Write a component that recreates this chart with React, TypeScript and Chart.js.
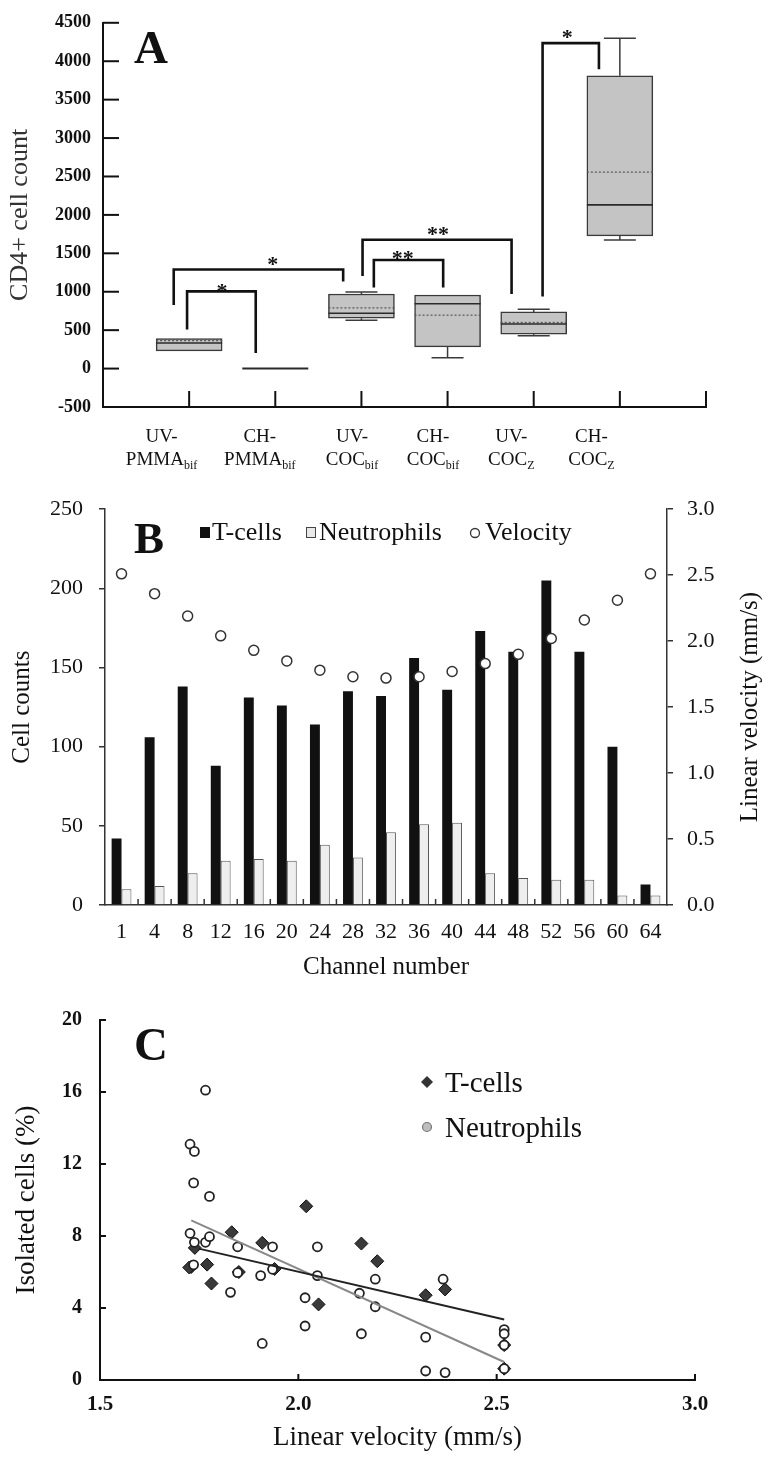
import React, { useEffect, useRef } from "react";
import { Chart, registerables } from "chart.js";

Chart.register(...registerables);

const SERIF = "'Liberation Serif', 'Times New Roman', Times, serif";

// ---------------- Panel A : CD4+ cell count box plots ----------------
const A_TOP_LABELS = ["UV-", "CH-", "UV-", "CH-", "UV-", "CH-"];
const A_MAIN_LABELS = ["PMMA", "PMMA", "COC", "COC", "COC", "COC"];
const A_SUB_LABELS = ["bif", "bif", "bif", "bif", "Z", "Z"];
const A_POSITIONS = [1, 2, 3, 4, 5, 6];
const A_LABEL_AT = [0.68, 1.82, 2.89, 3.83, 4.74, 5.67];
const A_MIN = [230, 0, 630, 140, 427, 1672];
const A_Q1 = [230, 0, 655, 282, 448, 1728];
const A_MEDIAN = [333, 0, 720, 843, 580, 2131];
const A_MEAN = [365, 0, 790, 695, 600, 2557];
const A_Q3 = [390, 0, 971, 958, 737, 3811];
const A_MAX = [390, 0, 995, 958, 772, 4300];

// significance brackets (x in group units, y in cell counts)
const SIG_LEFT_X = [0.976, 0.821, 3.144, 3.013, 5.103];
const SIG_RIGHT_X = [1.773, 2.788, 3.949, 4.743, 5.757];
const SIG_TOP = [1005, 1290, 1413, 1677, 4236];
const SIG_LEFT_END = [508, 826, 1056, 1205, 937];
const SIG_RIGHT_END = [203, 1133, 1056, 971, 3897];
const SIG_MARK = ["*", "*", "**", "**", "*"];
const SIG_MARK_X = [1.38, 1.97, 3.48, 3.89, 5.39];
const SIG_MARK_Y = [1043, 1397, 1473, 1787, 4351];

// ---------------- Panel B : cells per channel ----------------
const CHANNELS = ["1", "4", "8", "12", "16", "20", "24", "28", "32", "36", "40", "44", "48", "52", "56", "60", "64"];
const T_CELLS = [42, 106, 138, 88, 131, 126, 114, 135, 132, 156, 136, 173, 160, 205, 160, 100, 13];
const NEUTROPHILS = [10, 12, 20, 28, 29, 28, 38, 30, 46, 51, 52, 20, 17, 16, 16, 6, 6];
const VELOCITY = [2.51, 2.36, 2.19, 2.04, 1.93, 1.85, 1.78, 1.73, 1.72, 1.73, 1.77, 1.83, 1.9, 2.02, 2.16, 2.31, 2.51];

// ---------------- Panel C : isolated cells vs velocity ----------------
const C_T_VEL = [2.519, 2.37, 2.199, 2.051, 1.94, 1.85, 1.781, 1.73, 1.725, 1.739, 1.77, 1.832, 1.909, 2.02, 2.159, 2.321, 2.519];
const C_T_PCT = [1.94, 5.03, 6.6, 4.2, 6.17, 6.0, 5.36, 6.28, 6.25, 7.34, 6.41, 8.21, 7.62, 9.65, 7.58, 4.71, 0.63];
const C_N_VEL = [1.766, 1.727, 1.738, 1.736, 1.776, 1.727, 1.738, 1.766, 1.776, 1.847, 1.935, 2.048, 1.736, 1.847, 1.935, 1.905, 1.829, 2.048, 2.154, 2.194, 2.194, 2.365, 2.017, 2.017, 2.519, 2.519, 2.519, 2.519, 1.909, 2.159, 2.321, 2.321, 2.37];
const C_N_PCT = [16.1, 13.1, 12.7, 10.95, 10.2, 8.15, 7.65, 7.65, 7.96, 7.4, 7.4, 7.4, 6.4, 5.96, 6.15, 5.8, 4.87, 5.8, 4.82, 5.6, 4.07, 5.6, 4.57, 3.0, 2.8, 2.57, 1.94, 0.63, 2.03, 2.57, 2.38, 0.5, 0.41];
const C_T_FIT_X = [1.749, 2.519];
const C_T_FIT_Y = [7.3, 3.36];
const C_N_FIT_X = [1.73, 2.519];
const C_N_FIT_Y = [8.87, 1.0];

function line(ctx: any, x1: number, y1: number, x2: number, y2: number) {
  ctx.beginPath();
  ctx.moveTo(x1, y1);
  ctx.lineTo(x2, y2);
  ctx.stroke();
}

const plotAPlugin = {
  id: "plotA",
  afterDatasetsDraw(chart: any) {
    const { ctx, scales } = chart;
    const x = scales.x, y = scales.y;
    const half = 33, cap = 16;
    ctx.save();
    A_POSITIONS.forEach((p, i) => {
      const cx = x.getPixelForValue(p);
      ctx.strokeStyle = "#3a3a3a";
      ctx.lineWidth = 1.5;
      if (A_MAX[i] > A_Q3[i]) {
        const a = y.getPixelForValue(A_Q3[i]);
        const b = y.getPixelForValue(A_MAX[i]);
        line(ctx, cx, a, cx, b);
        line(ctx, cx - cap, b, cx + cap, b);
      }
      if (A_MIN[i] < A_Q1[i]) {
        const a = y.getPixelForValue(A_Q1[i]);
        const b = y.getPixelForValue(A_MIN[i]);
        line(ctx, cx, a, cx, b);
        line(ctx, cx - cap, b, cx + cap, b);
      }
      if (A_MEAN[i] !== A_MEDIAN[i]) {
        const ym = y.getPixelForValue(A_MEAN[i]);
        ctx.save();
        ctx.setLineDash([2, 2]);
        ctx.strokeStyle = "#555";
        ctx.lineWidth = 1.2;
        line(ctx, cx - half, ym, cx + half, ym);
        ctx.restore();
      }
      const yMed = y.getPixelForValue(A_MEDIAN[i]);
      ctx.strokeStyle = "#2a2a2a";
      ctx.lineWidth = A_Q1[i] === A_Q3[i] ? 2 : 1.6;
      line(ctx, cx - half, yMed, cx + half, yMed);
    });
    ctx.restore();
  },
  afterDraw(chart: any) {
    const { ctx, chartArea, scales } = chart;
    const x = scales.x, y = scales.y;
    ctx.save();
    // inward tick marks
    ctx.strokeStyle = "#111";
    ctx.lineWidth = 2;
    y.ticks.forEach((t: any) => {
      const py = y.getPixelForValue(t.value);
      line(ctx, chartArea.left, py, chartArea.left + 16, py);
    });
    x.ticks.forEach((t: any) => {
      if (t.value === 0) return;
      const px = x.getPixelForValue(t.value);
      line(ctx, px, chartArea.bottom, px, chartArea.bottom - 16);
    });
    // significance brackets
    ctx.lineWidth = 2.6;
    ctx.lineJoin = "miter";
    SIG_TOP.forEach((top, i) => {
      const xl = x.getPixelForValue(SIG_LEFT_X[i]);
      const xr = x.getPixelForValue(SIG_RIGHT_X[i]);
      ctx.beginPath();
      ctx.moveTo(xl, y.getPixelForValue(SIG_LEFT_END[i]));
      ctx.lineTo(xl, y.getPixelForValue(top));
      ctx.lineTo(xr, y.getPixelForValue(top));
      ctx.lineTo(xr, y.getPixelForValue(SIG_RIGHT_END[i]));
      ctx.stroke();
      ctx.fillStyle = "#111";
      ctx.font = `bold 22px ${SERIF}`;
      ctx.textAlign = "center";
      ctx.textBaseline = "middle";
      ctx.fillText(SIG_MARK[i], x.getPixelForValue(SIG_MARK_X[i]), y.getPixelForValue(SIG_MARK_Y[i]) + 4);
    });
    // category labels
    ctx.fillStyle = "#111";
    ctx.textBaseline = "alphabetic";
    A_TOP_LABELS.forEach((top, i) => {
      const cx = x.getPixelForValue(A_LABEL_AT[i]);
      ctx.font = `19px ${SERIF}`;
      ctx.textAlign = "center";
      ctx.fillText(top, cx, chartArea.bottom + 35);
      const mainW = ctx.measureText(A_MAIN_LABELS[i]).width;
      ctx.font = `12px ${SERIF}`;
      const subW = ctx.measureText(A_SUB_LABELS[i]).width;
      const start = cx - (mainW + subW) / 2;
      ctx.textAlign = "left";
      ctx.font = `19px ${SERIF}`;
      ctx.fillText(A_MAIN_LABELS[i], start, chartArea.bottom + 58);
      ctx.font = `12px ${SERIF}`;
      ctx.fillText(A_SUB_LABELS[i], start + mainW, chartArea.bottom + 62);
    });
    // panel letter
    ctx.font = `bold 47px ${SERIF}`;
    ctx.textAlign = "left";
    ctx.fillText("A", 134, 63);
    ctx.restore();
  },
};

function configA(): any {
  return {
    type: "bar",
    data: {
      datasets: [
        {
          label: "CD4+ cell count",
          data: A_POSITIONS.map((p, i) => ({ x: p, y: [A_Q1[i], A_Q3[i]] })),
          backgroundColor: "#c4c4c4",
          borderColor: "#3a3a3a",
          borderWidth: 1.5,
          borderSkipped: false,
          barThickness: 66,
        },
      ],
    },
    options: {
      responsive: false,
      animation: false,
      devicePixelRatio: 1,
      layout: { padding: { top: 15, right: 61, left: 0, bottom: 0 } },
      plugins: { legend: { display: false }, tooltip: { enabled: false } },
      scales: {
        x: {
          type: "linear",
          min: 0,
          max: 7,
          offset: false,
          ticks: { display: false, stepSize: 1 },
          grid: { display: false, drawTicks: false, offset: false },
          border: { display: true, color: "#111", width: 2 },
          afterFit: (s: any) => { s.height = 73; },
        },
        y: {
          type: "linear",
          min: -500,
          max: 4500,
          ticks: {
            stepSize: 500,
            callback: (v: any) => String(v),
            font: { family: SERIF, size: 18, weight: "bold" },
            color: "#111",
            padding: 12,
          },
          grid: { display: false, drawTicks: false },
          border: { display: true, color: "#111", width: 2 },
          title: { display: true, text: "CD4+ cell count", font: { family: SERIF, size: 26 }, color: "#333", padding: { top: 5, bottom: 0 } },
          afterFit: (s: any) => { s.width = 103; },
        },
      },
    },
    plugins: [plotAPlugin],
  };
}

const plotBPlugin = {
  id: "plotB",
  afterDraw(chart: any) {
    const { ctx, chartArea, scales } = chart;
    const x = scales.x;
    ctx.save();
    ctx.strokeStyle = "#333";
    ctx.lineWidth = 1.5;
    for (let i = 0; i < CHANNELS.length - 1; i++) {
      const px = (x.getPixelForValue(i) + x.getPixelForValue(i + 1)) / 2;
      line(ctx, px, chartArea.bottom, px, chartArea.bottom - 6);
    }
    // right axis title (reads bottom-to-top)
    ctx.save();
    ctx.translate(750, (chartArea.top + chartArea.bottom) / 2);
    ctx.rotate(-Math.PI / 2);
    ctx.font = `25px ${SERIF}`;
    ctx.fillStyle = "#111";
    ctx.textAlign = "center";
    ctx.textBaseline = "middle";
    ctx.fillText("Linear velocity (mm/s)", 0, 0);
    ctx.restore();
    // legend
    ctx.font = `26px ${SERIF}`;
    ctx.textAlign = "left";
    ctx.textBaseline = "alphabetic";
    ctx.fillStyle = "#111";
    ctx.fillRect(200, 47, 10, 11);
    ctx.fillText("T-cells", 212, 60);
    ctx.fillStyle = "#e8e8e8";
    ctx.fillRect(306, 47, 10, 11);
    ctx.lineWidth = 1;
    ctx.strokeStyle = "#444";
    ctx.strokeRect(306.5, 47.5, 9, 10);
    ctx.fillStyle = "#111";
    ctx.fillText("Neutrophils", 319, 60);
    ctx.beginPath();
    ctx.arc(475, 53, 4.5, 0, Math.PI * 2);
    ctx.fillStyle = "#fff";
    ctx.fill();
    ctx.lineWidth = 1.3;
    ctx.strokeStyle = "#333";
    ctx.stroke();
    ctx.fillStyle = "#111";
    ctx.fillText("Velocity", 485, 60);
    ctx.font = `bold 45px ${SERIF}`;
    ctx.fillText("B", 134, 73);
    ctx.restore();
  },
};

function configB(): any {
  const tickFont = { family: SERIF, size: 22 };
  const titleFont = { family: SERIF, size: 25 };
  return {
    type: "bar",
    data: {
      labels: CHANNELS,
      datasets: [
        {
          type: "line",
          label: "Velocity",
          data: VELOCITY,
          yAxisID: "y1",
          showLine: false,
          pointStyle: "circle",
          pointRadius: 5,
          pointBackgroundColor: "#fff",
          pointBorderColor: "#333",
          pointBorderWidth: 1.5,
          order: 0,
        },
        {
          type: "bar",
          label: "T-cells",
          data: T_CELLS,
          yAxisID: "y",
          backgroundColor: "#111",
          borderWidth: 0,
          categoryPercentage: 0.6,
          barPercentage: 1,
          order: 1,
        },
        {
          type: "bar",
          label: "Neutrophils",
          data: NEUTROPHILS,
          yAxisID: "y",
          backgroundColor: "#eeeeee",
          borderColor: "#555",
          borderWidth: 1,
          borderSkipped: "bottom",
          categoryPercentage: 0.6,
          barPercentage: 1,
          order: 1,
        },
      ],
    },
    options: {
      responsive: false,
      animation: false,
      devicePixelRatio: 1,
      layout: { padding: { top: 29, right: 0, left: 0, bottom: 0 } },
      plugins: { legend: { display: false }, tooltip: { enabled: false } },
      scales: {
        x: {
          ticks: { font: tickFont, color: "#111", padding: 14, maxRotation: 0, autoSkip: false },
          grid: { display: false, drawTicks: false },
          border: { display: true, color: "#333", width: 1.5 },
          title: { display: true, text: "Channel number", font: titleFont, color: "#111", padding: { top: 0, bottom: 8 } },
          afterFit: (s: any) => { s.height = 85; },
        },
        y: {
          position: "left",
          min: 0,
          max: 250,
          ticks: { stepSize: 50, font: tickFont, color: "#111", padding: 16 },
          grid: { display: true, drawOnChartArea: false, drawTicks: true, tickLength: 6, color: "#333", lineWidth: 1.5 },
          border: { display: true, color: "#333", width: 1.5 },
          title: { display: true, text: "Cell counts", font: titleFont, color: "#111", padding: { top: 7, bottom: 0 } },
          afterFit: (s: any) => { s.width = 105; },
        },
        y1: {
          position: "right",
          min: 0,
          max: 3,
          ticks: { stepSize: 0.5, callback: (v: any) => Number(v).toFixed(1), font: tickFont, color: "#111", padding: 14 },
          grid: { display: true, drawOnChartArea: false, drawTicks: true, tickLength: 6, color: "#333", lineWidth: 1.5 },
          border: { display: true, color: "#333", width: 1.5 },
          title: { display: false, text: "Linear velocity (mm/s)" },
          afterFit: (s: any) => { s.width = 100; },
        },
      },
    },
    plugins: [plotBPlugin],
  };
}

const plotCPlugin = {
  id: "plotC",
  afterDraw(chart: any) {
    const { ctx, chartArea, scales } = chart;
    const x = scales.x, y = scales.y;
    ctx.save();
    ctx.strokeStyle = "#111";
    ctx.lineWidth = 2;
    y.ticks.forEach((t: any) => {
      const py = y.getPixelForValue(t.value);
      line(ctx, chartArea.left, py, chartArea.left + 6, py);
    });
    x.ticks.forEach((t: any) => {
      const px = x.getPixelForValue(t.value);
      line(ctx, px, chartArea.bottom, px, chartArea.bottom - 6);
    });
    // legend
    ctx.beginPath();
    ctx.moveTo(427, 86);
    ctx.lineTo(433, 92);
    ctx.lineTo(427, 98);
    ctx.lineTo(421, 92);
    ctx.closePath();
    ctx.fillStyle = "#333";
    ctx.fill();
    ctx.beginPath();
    ctx.arc(427, 137, 4.5, 0, Math.PI * 2);
    ctx.fillStyle = "#bdbdbd";
    ctx.fill();
    ctx.lineWidth = 1.2;
    ctx.strokeStyle = "#777";
    ctx.stroke();
    ctx.fillStyle = "#111";
    ctx.font = `29px ${SERIF}`;
    ctx.textAlign = "left";
    ctx.textBaseline = "alphabetic";
    ctx.fillText("T-cells", 445, 102);
    ctx.fillText("Neutrophils", 445, 147);
    ctx.font = `bold 47px ${SERIF}`;
    ctx.fillText("C", 134, 70);
    ctx.restore();
  },
};

function configC(): any {
  return {
    type: "scatter",
    data: {
      datasets: [
        {
          label: "T-cells fit",
          data: C_T_FIT_X.map((v, i) => ({ x: v, y: C_T_FIT_Y[i] })),
          showLine: true,
          borderColor: "#222",
          borderWidth: 2,
          pointRadius: 0,
          order: 0,
        },
        {
          label: "Neutrophils fit",
          data: C_N_FIT_X.map((v, i) => ({ x: v, y: C_N_FIT_Y[i] })),
          showLine: true,
          borderColor: "#888",
          borderWidth: 2,
          pointRadius: 0,
          order: 0,
        },
        {
          label: "Neutrophils",
          data: C_N_VEL.map((v, i) => ({ x: v, y: C_N_PCT[i] })),
          pointStyle: "circle",
          pointRadius: 4.5,
          pointBackgroundColor: "#fff",
          pointBorderColor: "#222",
          pointBorderWidth: 1.8,
          order: 1,
        },
        {
          label: "T-cells",
          data: C_T_VEL.map((v, i) => ({ x: v, y: C_T_PCT[i] })),
          pointStyle: "rectRot",
          pointRadius: 6.5,
          pointBackgroundColor: "#3a3a3a",
          pointBorderColor: "#111",
          pointBorderWidth: 1,
          order: 2,
        },
      ],
    },
    options: {
      responsive: false,
      animation: false,
      devicePixelRatio: 1,
      layout: { padding: { top: 29, right: 72, left: 0, bottom: 0 } },
      plugins: { legend: { display: false }, tooltip: { enabled: false } },
      scales: {
        x: {
          type: "linear",
          min: 1.5,
          max: 3.0,
          ticks: { stepSize: 0.5, callback: (v: any) => Number(v).toFixed(1), font: { family: SERIF, size: 21, weight: "bold" }, color: "#111", padding: 12 },
          grid: { display: false, drawTicks: false },
          border: { display: true, color: "#111", width: 2 },
          title: { display: true, text: "Linear velocity (mm/s)", font: { family: SERIF, size: 27 }, color: "#111", padding: { top: 0, bottom: 4 } },
          afterFit: (s: any) => { s.height = 78; },
        },
        y: {
          type: "linear",
          min: 0,
          max: 20,
          ticks: { stepSize: 4, font: { family: SERIF, size: 20, weight: "bold" }, color: "#111", padding: 18 },
          grid: { display: false, drawTicks: false },
          border: { display: true, color: "#111", width: 2 },
          title: { display: true, text: "Isolated cells (%)", font: { family: SERIF, size: 27 }, color: "#111", padding: { top: 11, bottom: 0 } },
          afterFit: (s: any) => { s.width = 100; },
        },
      },
    },
    plugins: [plotCPlugin],
  };
}

function ChartCanvas({ top, height, build }: { top: number; height: number; build: () => any }) {
  const ref = useRef<HTMLCanvasElement>(null);
  useEffect(() => {
    const chart = new Chart(ref.current as HTMLCanvasElement, build());
    return () => chart.destroy();
  }, []);
  return (
    <canvas
      ref={ref}
      width={767}
      height={height}
      style={{ position: "absolute", left: 0, top, width: 767, height, display: "block" }}
    />
  );
}

export default function App() {
  return (
    <div style={{ position: "absolute", left: 0, top: 0, width: 767, height: 1458, background: "#fff", overflow: "hidden" }}>
      <ChartCanvas top={0} height={480} build={configA} />
      <ChartCanvas top={480} height={510} build={configB} />
      <ChartCanvas top={990} height={468} build={configC} />
    </div>
  );
}
